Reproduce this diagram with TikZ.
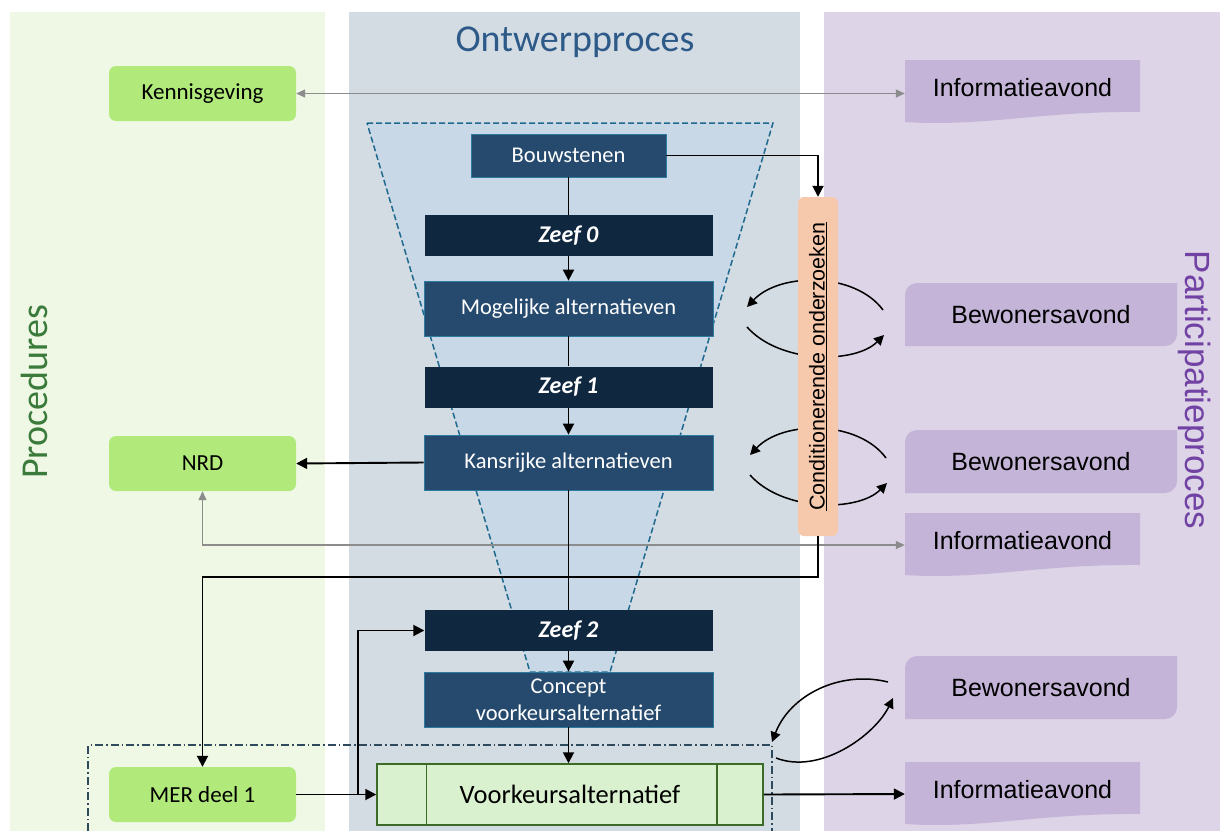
\documentclass[tikz,border=0pt]{standalone}
\usepackage{fontspec}
\setmainfont{Carlito}
\newfontfamily\arialfont{Liberation Sans}
\usetikzlibrary{arrows.meta}

% colours of the lanes and boxes
\definecolor{lanegreen}{HTML}{EEF8E5}
\definecolor{laneblue}{HTML}{D3DBE3}
\definecolor{lanepurple}{HTML}{DDD4E8}
\definecolor{funnelfill}{HTML}{C8D8E6}
\definecolor{funneldash}{HTML}{1F6A8E}
\definecolor{stepblue}{HTML}{264A6E}
\definecolor{stepedge}{HTML}{2E7BA0}
\definecolor{zeefblue}{HTML}{10283F}
\definecolor{procgreen}{HTML}{B1EA7B}
\definecolor{condorange}{HTML}{F6C8AC}
\definecolor{voorkfill}{HTML}{D9F1CF}
\definecolor{voorkedge}{HTML}{3B6B27}
\definecolor{partpurple}{HTML}{C4B4D7}
\definecolor{greyline}{HTML}{8C8C8C}
\definecolor{titleblue}{HTML}{2D5A88}
\definecolor{titlegreen}{HTML}{3A7A3A}
\definecolor{titlepurple}{HTML}{7142A3}
\definecolor{boxline}{HTML}{2F4A5C}

\tikzset{
  procbox/.style={rounded corners=7pt, fill=procgreen, minimum width=187pt, minimum height=55pt, font=\fontsize{23}{27}\selectfont},
  stepbox/.style={fill=stepblue, draw=stepedge, line width=0.8pt, text=white, minimum width=289pt, minimum height=55pt, align=center, font=\fontsize{22.5}{27}\selectfont},
  zeefbox/.style={fill=zeefblue, text=white, minimum width=288pt, minimum height=41pt, font=\fontsize{24}{28}\selectfont\bfseries\itshape},
  condbox/.style={rounded corners=6pt, fill=condorange, minimum width=339pt, minimum height=40pt, inner sep=0pt, font=\arialfont\fontsize{21.5}{25}\selectfont},
  voorkbox/.style={fill=voorkfill, draw=voorkedge, line width=1.5pt, minimum width=386pt, minimum height=61pt, font=\fontsize{26.5}{30}\selectfont},
  bewonbox/.style={fill=lanepurple, minimum width=272pt, minimum height=63pt, font=\arialfont\fontsize{25}{30}\selectfont,
    path picture={\fill[partpurple] (path picture bounding box.south west)
      -- ([yshift=-12pt]path picture bounding box.north west) arc[start angle=180, end angle=90, radius=12pt]
      -- (path picture bounding box.north east)
      -- ([yshift=12pt]path picture bounding box.south east) arc[start angle=0, end angle=-90, radius=12pt]
      -- cycle;}},
  infobox/.style={fill=lanepurple, minimum width=235pt, minimum height=64pt, text depth=10pt, font=\arialfont\fontsize{25}{30}\selectfont,
    path picture={\fill[partpurple] (path picture bounding box.north west) -- (path picture bounding box.north east)
      -- ([yshift=12pt]path picture bounding box.south east)
      .. controls ([xshift=-100pt,yshift=13pt]path picture bounding box.south east) and ([xshift=80pt,yshift=-3pt]path picture bounding box.south west) .. ([yshift=2pt]path picture bounding box.south west)
      -- cycle;}},
  flow/.style={line width=1.9pt, -{Triangle[length=11pt,width=11pt]}},
  link/.style={line width=1.9pt},
  curl/.style={line width=1.5pt, -{Triangle[length=10pt,width=10pt]}},
  greyflow/.style={draw=greyline, line width=1.3pt, {Triangle[length=9pt,width=8pt]}-{Triangle[length=9pt,width=8pt]}},
}

\begin{document}
\begin{tikzpicture}[x=1pt,y=-1pt]
\useasboundingbox (0,0) rectangle (1220,831);

% Lanes
\fill[lanegreen] (10,12) rectangle (325,831);
\fill[laneblue] (349,12) rectangle (800,831);
\fill[lanepurple] (824,12) rectangle (1220,831);

\node[font=\fontsize{38}{44}\selectfont, text=titleblue] (ontwerp) at (575,42) {Ontwerpproces};
\node[rotate=90, font=\fontsize{38}{44}\selectfont, text=titlegreen] (procedures) at (34,392) {Procedures};
\node[rotate=-90, font=\arialfont\fontsize{35}{40}\selectfont, text=titlepurple] (participatie) at (1195,390) {Participatieproces};

% Funnel
\fill[funnelfill] (367,123) -- (773,123) -- (610,672) -- (530,672) -- cycle;
\draw[funneldash, line width=1.5pt, dash pattern=on 6pt off 3pt] (367,123) -- (773,123) -- (610,672) -- (530,672) -- cycle;

% Loops round the onderzoeken
\foreach \xo/\yo in {0/0, 3/148} {
  \draw[curl] ({883+\xo},{310+\yo}) .. controls ({855+\xo},{272+\yo}) and ({780+\xo},{272+\yo}) .. ({747+\xo},{307+\yo});
  \draw[curl] ({747+\xo},{327+\yo}) .. controls ({780+\xo},{364+\yo}) and ({855+\xo},{364+\yo}) .. ({884+\xo},{335+\yo});
}
\draw[curl] (888,682) .. controls (840,670) and (790,695) .. (772,742);
\draw[curl] (776,758) .. controls (820,775) and (875,735) .. (893,698);

% Procedures
\node[procbox] (kennis) at (202.5,93.5) {Kennisgeving};
\node[procbox] (nrd) at (202.5,463.5) {NRD};
\node[procbox] (mer) at (202.5,794.5) {MER deel 1};

% Ontwerpproces
\node[stepbox, minimum width=195pt, minimum height=43pt] (bouw) at (568.5,155.5) {Bouwstenen};
\node[zeefbox] (zeef0) at (568.5,235.5) {Zeef 0};
\node[stepbox] (mog) at (568.5,308.5) {Mogelijke alternatieven};
\node[zeefbox] (zeef1) at (568.5,387) {Zeef 1};
\node[stepbox] (kans) at (568.5,462.5) {Kansrijke alternatieven};
\node[zeefbox] (zeef2) at (568.5,630.5) {Zeef 2};
\node[stepbox] (concept) at (568.5,699.5) {Concept\\voorkeursalternatief};
\node[voorkbox] (voork) at (570,794.5) {Voorkeursalternatief};
\draw[voorkedge, line width=1.5pt] ([xshift=50pt]voork.north west) -- ([xshift=50pt]voork.south west);
\draw[voorkedge, line width=1.5pt] ([xshift=-47pt]voork.north east) -- ([xshift=-47pt]voork.south east);
\node[condbox, rotate=90] (cond) at (818,366.5) {\underline{Conditionerende onderzoeken}};

% Participatieproces
\node[infobox] (info1) at (1022.5,92) {Informatieavond};
\node[bewonbox] (bew1) at (1041,314.5) {Bewonersavond};
\node[bewonbox] (bew2) at (1041,461.5) {Bewonersavond};
\node[infobox] (info2) at (1022.5,545) {Informatieavond};
\node[bewonbox] (bew3) at (1041,687.5) {Bewonersavond};
\node[infobox] (info3) at (1022.5,794) {Informatieavond};

% Dash-dot frame round the voorkeur
\draw[boxline, line width=1.3pt, dash pattern=on 8pt off 3pt on 1.5pt off 3pt] (88,831) -- (88,745) -- (772,745) -- (772,831);

% Connectors
\draw[greyflow] (kennis.east) -- (info1.west |- kennis.east);
\draw[greyflow] (nrd.south) |- (info2.west);
\draw[flow] (bouw.east) -| (cond.east);
\draw[link] (bouw.south) -- (zeef0.north);
\draw[flow] (zeef0.south) -- (mog.north);
\draw[link] (mog.south) -- (zeef1.north);
\draw[flow] (zeef1.south) -- (kans.north);
\draw[flow] (kans.west) -- (nrd.east);
\draw[link] (kans.south) -- (zeef2.north);
\draw[flow] (cond.west) -- ++(0,41) -| (mer.north);
\draw[flow] (zeef2.south) -- (concept.north);
\draw[flow] (concept.south) -- (concept.south |- voork.north);
\coordinate (split) at (358,794.5);
\draw[flow] (mer.east) -- (voork.west);
\draw[flow] (split) |- (zeef2.west);
\draw[flow] (voork.east) -- (info3.west);
\end{tikzpicture}
\end{document}
